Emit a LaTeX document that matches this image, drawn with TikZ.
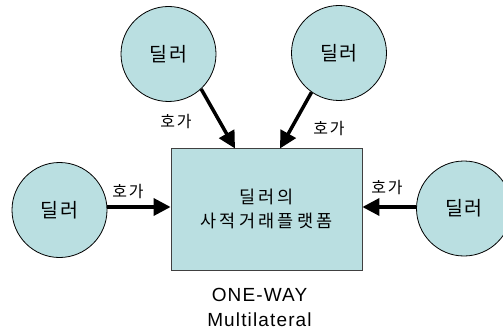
\documentclass[tikz,border=0pt]{standalone}
\usepackage{fontspec}
\setmainfont{Noto Sans CJK KR}
\newfontfamily\latinfont[LetterSpace=6]{Liberation Sans}
\newfontfamily\dealerfont[LetterSpace=6]{Noto Sans CJK KR}
\newfontfamily\boxfont[LetterSpace=19]{Noto Sans CJK KR}
\newfontfamily\quotefont[LetterSpace=12]{Noto Sans CJK KR}
\usetikzlibrary{arrows.meta}
\definecolor{tealfill}{HTML}{BADFE1}
\begin{document}
\begin{tikzpicture}[x=1pt,y=-1pt,
  dealer/.style={circle,draw=black,line width=0.8pt,fill=tealfill,minimum size=95pt,inner sep=0pt,font=\dealerfont\fontsize{19.5}{20}\selectfont},
  platform/.style={rectangle,draw=black!75,line width=0.8pt,fill=tealfill,minimum width=191pt,minimum height=122pt,inner sep=0pt,align=center,font=\boxfont\fontsize{17.5}{24}\selectfont},
  quote/.style={font=\quotefont\fontsize{16}{16}\selectfont,inner sep=0pt},
  flow/.style={line width=3.5pt,-{Triangle[length=17pt,width=17pt]}},
  caption/.style={align=center,font=\latinfont\fontsize{19}{25}\selectfont,inner sep=0pt}]
  \useasboundingbox (0,0) rectangle (503,334);
  % dealers around the platform
  \node[dealer] (d1) at (168.5,54) {딜러};
  \node[dealer] (d2) at (339,53) {딜러};
  \node[dealer] (d3) at (59.5,210) {딜러};
  \node[dealer] (d4) at (464,208.5) {딜러};
  % central platform
  \node[platform] (p) at (266.5,209) {딜러의\\사적거래플랫폼};
  % quote flows into the platform
  \coordinate (t1) at (235,148.5);
  \coordinate (t2) at (280,148.5);
  \draw[flow] (d1.-47) -- (t1);
  \draw[flow] (d2.-125) -- (t2);
  \draw[flow] (d3.east |- 0,207) -- (p.west |- 0,207);
  \draw[flow] (d4.west |- 0,207) -- (p.east |- 0,207);
  % quote labels
  \node[quote] (q1) at (176,122) {호가};
  \node[quote] (q2) at (329,129) {호가};
  \node[quote] (q3) at (128,191) {호가};
  \node[quote] (q4) at (387,187) {호가};
  % caption below
  \node[caption] (c) at (259.5,307) {ONE-WAY\\Multilateral};
\end{tikzpicture}
\end{document}
